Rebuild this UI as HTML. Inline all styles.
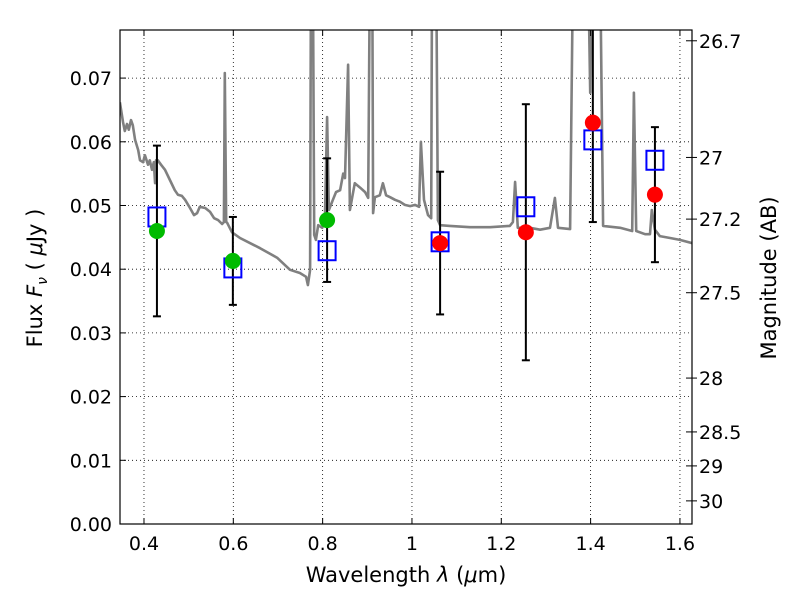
<!DOCTYPE html>
<html><head><meta charset="utf-8">
<style>
html,body{margin:0;padding:0;background:#fff;}
svg{display:block;font-family:"DejaVu Sans","Liberation Sans",sans-serif;}
</style></head>
<body>
<svg id="chart" width="800" height="600" viewBox="0 0 800 600">
<rect x="0" y="0" width="800" height="600" fill="#fff"/>
<g id="grid"></g>
<g id="plot"></g>
<g id="axes"></g>
</svg>
<script>
// ---- data ----
const xTicks = [0.4, 0.6, 0.8, 1.0, 1.2, 1.4, 1.6];
const xTickLabels = ["0.4", "0.6", "0.8", "1", "1.2", "1.4", "1.6"];
const yTicks = [0, 0.01, 0.02, 0.03, 0.04, 0.05, 0.06, 0.07];
const yTickLabels = ["0.00", "0.01", "0.02", "0.03", "0.04", "0.05", "0.06", "0.07"];
const magTicks = [26.7, 27, 27.2, 27.5, 28, 28.5, 29, 30];
const magTickLabels = ["26.7", "27", "27.2", "27.5", "28", "28.5", "29", "30"];

const specWave = [0.346,0.353,0.357,0.362,0.366,0.371,0.375,0.380,0.387,0.391,0.398,0.402,0.409,0.413,0.418,0.422,0.425,0.427,0.431,0.438,0.447,0.458,0.469,0.476,0.485,0.492,0.503,0.512,0.519,0.525,0.537,0.548,0.557,0.566,0.575,0.579,0.581,0.584,0.586,0.597,0.615,0.660,0.698,0.727,0.749,0.763,0.767,0.772,0.774,0.778,0.781,0.785,0.790,0.799,0.805,0.810,0.814,0.823,0.830,0.839,0.846,0.850,0.857,0.861,0.872,0.884,0.895,0.902,0.906,0.911,0.913,0.917,0.928,0.935,0.942,0.951,0.962,0.973,0.984,0.996,1.007,1.016,1.020,1.027,1.036,1.043,1.045,1.054,1.058,1.063,1.085,1.130,1.175,1.219,1.226,1.231,1.237,1.264,1.287,1.309,1.320,1.327,1.354,1.361,1.394,1.399,1.403,1.421,1.428,1.466,1.493,1.497,1.502,1.522,1.533,1.537,1.544,1.555,1.578,1.600,1.627];
const specFlux = [0.0662,0.0631,0.0617,0.0628,0.0619,0.0634,0.0626,0.0603,0.0587,0.0571,0.0568,0.0579,0.0564,0.0571,0.0556,0.0568,0.0535,0.0571,0.0571,0.0564,0.0556,0.0540,0.0524,0.0517,0.0515,0.0509,0.0496,0.0485,0.0488,0.0498,0.0496,0.0490,0.0480,0.0477,0.0471,0.0474,0.0708,0.0474,0.0473,0.0458,0.0449,0.0433,0.0418,0.0399,0.0394,0.0388,0.0375,0.0399,0.09,0.09,0.0454,0.0446,0.0469,0.0465,0.0477,0.0639,0.0493,0.0509,0.0521,0.0524,0.0550,0.0543,0.0721,0.0493,0.0535,0.0528,0.0521,0.0512,0.09,0.09,0.0488,0.0513,0.0516,0.0535,0.0516,0.0513,0.0509,0.0506,0.0501,0.0499,0.0501,0.0498,0.0600,0.0509,0.0485,0.0480,0.09,0.09,0.0477,0.0469,0.0468,0.0466,0.0466,0.0468,0.0474,0.0537,0.0465,0.0465,0.0462,0.0465,0.0512,0.0465,0.0463,0.09,0.09,0.0677,0.09,0.09,0.0468,0.0465,0.0460,0.0677,0.0460,0.0455,0.0455,0.0493,0.0462,0.0452,0.0449,0.0446,0.0441];

const bandWave = [0.429, 0.599, 0.810, 1.063, 1.255, 1.405, 1.544];
const modelFlux = [0.0482, 0.0402, 0.0429, 0.0443, 0.0498, 0.0603, 0.0571];
const obsFlux = [0.0460, 0.0413, 0.0477, 0.0441, 0.0458, 0.0630, 0.0517];
const obsErr = [0.0134, 0.0069, 0.0097, 0.0112, 0.0201, 0.0156, 0.0106];
const obsColor = ["#00bb00", "#00bb00", "#00bb00", "#ff0000", "#ff0000", "#ff0000", "#ff0000"];

// ---- axes ----
const L = 120, R = 692, T = 30, B = 524;
const xMin = 0.3463, xMax = 1.627;
const yMin = 0, yMax = 0.07755;
const X = v => L + (v - xMin) / (xMax - xMin) * (R - L);
const Y = v => B - (v - yMin) / (yMax - yMin) * (B - T);
const magToFlux = m => Math.pow(10, (23.9 - m) / 2.5);

const NS = "http://www.w3.org/2000/svg";
function mk(tag, attrs, parent) {
  const e = document.createElementNS(NS, tag);
  for (const k in attrs) e.setAttribute(k, attrs[k]);
  parent.appendChild(e);
  return e;
}
const grid = document.getElementById('grid');
const plot = document.getElementById('plot');
const axes = document.getElementById('axes');

const defs = mk('defs', {}, document.getElementById('chart'));
const cp = mk('clipPath', {id: 'clip'}, defs);
mk('rect', {x: L, y: T, width: R - L, height: B - T}, cp);
plot.setAttribute('clip-path', 'url(#clip)');

xTicks.forEach((t, i) => {
  const g = mk('line', {x1: X(t), x2: X(t), y1: T, y2: B, stroke: '#000', 'stroke-width': 0.8, 'stroke-dasharray': '1,3'}, grid);
  
  
});
yTicks.forEach((t, i) => {
  const g = mk('line', {x1: L, x2: R, y1: Y(t), y2: Y(t), stroke: '#000', 'stroke-width': 0.8, 'stroke-dasharray': '1,3'}, grid);
  
  
});

let d = '';
specWave.forEach((w, i) => { d += (i ? 'L' : 'M') + X(w).toFixed(1) + ',' + Y(specFlux[i]).toFixed(1); });
const sp = mk('path', {d: d, fill: 'none', stroke: '#808080', 'stroke-width': 2.6, 'stroke-linejoin': 'round'}, plot);



bandWave.forEach((w, i) => {
  const x = X(w), y1 = Y(obsFlux[i] + obsErr[i]), y2 = Y(obsFlux[i] - obsErr[i]);
  const g = mk('g', {}, plot);
  
  
  mk('line', {x1: x, x2: x, y1: y1, y2: y2, stroke: '#000', 'stroke-width': 2}, g);
  mk('line', {x1: x - 4, x2: x + 4, y1: y1, y2: y1, stroke: '#000', 'stroke-width': 2}, g);
  mk('line', {x1: x - 4, x2: x + 4, y1: y2, y2: y2, stroke: '#000', 'stroke-width': 2}, g);
});
bandWave.forEach((w, i) => {
  const s = mk('rect', {x: X(w) - 8.5, y: Y(modelFlux[i]) - 9.5, width: 17, height: 19, fill: 'none', stroke: '#0000ff', 'stroke-width': 2}, plot);
  
  
});
bandWave.forEach((w, i) => {
  const c = mk('circle', {cx: X(w), cy: Y(obsFlux[i]), r: 8, fill: obsColor[i]}, plot);
  
  
});

const fr = mk('rect', {x: L, y: T, width: R - L, height: B - T, fill: 'none', stroke: '#000', 'stroke-width': 1.2}, axes);



xTicks.forEach((t, i) => {
  const x = X(t);
  mk('line', {x1: x, x2: x, y1: B, y2: B - 6, stroke: '#000', 'stroke-width': 1}, axes);
  mk('line', {x1: x, x2: x, y1: T, y2: T + 6, stroke: '#000', 'stroke-width': 1}, axes);
  const tx = mk('text', {x: x, y: B + 26, 'font-size': 19, 'text-anchor': 'middle'}, axes);
  tx.textContent = xTickLabels[i];
  
  
});
yTicks.forEach((t, i) => {
  const y = Y(t);
  mk('line', {x1: L, x2: L + 6, y1: y, y2: y, stroke: '#000', 'stroke-width': 1}, axes);
  const tx = mk('text', {x: L - 8, y: y + 7, 'font-size': 19, 'text-anchor': 'end'}, axes);
  tx.textContent = yTickLabels[i];
  
  
});
magTicks.forEach((m, i) => {
  const y = Y(magToFlux(m));
  mk('line', {x1: R - 6, x2: R + 5, y1: y, y2: y, stroke: '#000', 'stroke-width': 1}, axes);
  const tx = mk('text', {x: R + 7, y: y + 7, 'font-size': 19, 'text-anchor': 'start'}, axes);
  tx.textContent = magTickLabels[i];
  
  
});
</script>
<svg style="position:absolute;left:0;top:0" width="800" height="600">
  <text x="406" y="582" font-size="21" text-anchor="middle" font-family="DejaVu Sans, sans-serif">Wavelength  <tspan font-style="italic">λ</tspan> (<tspan font-style="italic">μ</tspan>m)</text>
  <text transform="translate(42,278) rotate(-90)" font-size="21" text-anchor="middle" font-family="DejaVu Sans, sans-serif">Flux  <tspan font-style="italic">F</tspan><tspan font-style="italic" font-size="14" dy="5">ν</tspan><tspan dy="-5">  ( </tspan><tspan font-style="italic">μ</tspan>Jy )</text>
  <text transform="translate(776,278) rotate(-90)" font-size="21" text-anchor="middle" font-family="DejaVu Sans, sans-serif">Magnitude (AB)</text>
</svg>
</body></html>
